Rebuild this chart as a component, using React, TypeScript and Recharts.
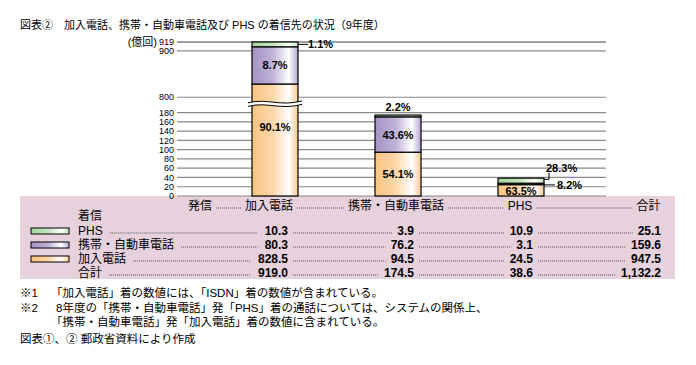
import React from "react";
import { BarChart, Bar, XAxis, YAxis, CartesianGrid } from "recharts";

// 発信側 (bars / table columns)
const categories = ["加入電話", "携帯・自動車電話", "PHS"];
// 着信側 values, 億回
const toFixedLine = [828.5, 94.5, 24.5];
const toMobile = [80.3, 76.2, 3.1];
const toPhs = [10.3, 3.9, 10.9];
const callTotals = [919.0, 174.5, 38.6];
const rowTotalPhs = 25.1;
const rowTotalMobile = 159.6;
const rowTotalFixed = 947.5;
const grandTotal = 1132.2;
// shares inside each bar, %
const pctFixed = [90.1, 54.1, 63.5];
const pctMobile = [8.7, 43.6, 8.2];
const pctPhs = [1.1, 2.2, 28.3];
const yTicks = [0, 20, 40, 60, 80, 100, 120, 140, 160, 180, 800, 900, 919];

// broken axis: 180..800 is squeezed out
const BREAK_LOW = 180;
const BREAK_HIGH = 800;
const SQUEEZE = 587;
const toDisplay = (v: number) => (v >= BREAK_HIGH ? v - SQUEEZE : v);
const fromDisplay = (d: number) => (d >= BREAK_HIGH - SQUEEZE ? d + SQUEEZE : d);

const FONT = "'Liberation Sans', 'Noto Sans CJK JP', sans-serif";
const PINK = "#E6D1DD";

const data = categories.map((name, i) => ({
  name,
  fixed: toDisplay(toFixedLine[i]),
  mobile: toMobile[i],
  phs: toPhs[i],
}));

const fmtPct = (v: number) => `${v.toFixed(1)}%`;
const fmtNum = (v: number) =>
  v.toLocaleString("en-US", { minimumFractionDigits: 1, maximumFractionDigits: 1 });

const labelProps = {
  fontFamily: FONT,
  fontSize: 11,
  fontWeight: 700,
  fill: "#000",
  dominantBaseline: "central" as const,
};

let ctx: CanvasRenderingContext2D | null = null;
function textWidth(s: string, font: string) {
  if (!ctx) ctx = document.createElement("canvas").getContext("2d");
  if (!ctx) return s.length * 7;
  ctx.font = font;
  return ctx.measureText(s).width;
}

// eslint-disable-next-line @typescript-eslint/no-explicit-any
function FixedShape(props: any) {
  const { x, y, width, height, index } = props;
  let brk = null;
  if (toFixedLine[index] >= BREAK_HIGH) {
    const disp = toDisplay(toFixedLine[index]);
    const mid = (BREAK_LOW + toDisplay(BREAK_HIGH)) / 2;
    const yc = y + height - (mid / disp) * height - 2;
    const x0 = x - 4;
    const x1 = x + width + 4;
    const w = x1 - x0;
    const g = 3.5;
    const top = `M${x0},${yc} C${x0 + w * 0.35},${yc - 5} ${x0 + w * 0.6},${yc + 4} ${x1},${yc - 2}`;
    const bot = `M${x0},${yc + g} C${x0 + w * 0.35},${yc - 5 + g} ${x0 + w * 0.6},${yc + 4 + g} ${x1},${yc - 2 + g}`;
    const area = `${top} L${x1},${yc - 2 + g} C${x0 + w * 0.6},${yc + 4 + g} ${x0 + w * 0.35},${yc - 5 + g} ${x0},${yc + g} Z`;
    brk = (
      <g>
        <path d={area} fill="#fff" stroke="none" />
        <path d={top} fill="none" stroke="#000" strokeWidth={1} />
        <path d={bot} fill="none" stroke="#000" strokeWidth={1} />
      </g>
    );
  }
  const cy = index === 0 ? y + height * 0.38 : y + height / 2 + (height < 15 ? 1 : 0);
  return (
    <g>
      <rect x={x} y={y} width={width} height={height} fill="url(#gOrange)" stroke="#000" strokeWidth={1.2} />
      {brk}
      <text x={x + width / 2} y={cy} textAnchor="middle" {...labelProps}>
        {fmtPct(pctFixed[index])}
      </text>
    </g>
  );
}

// eslint-disable-next-line @typescript-eslint/no-explicit-any
function MobileShape(props: any) {
  const { x, y, width, height, index } = props;
  const cy = y + height / 2;
  const big = height > 12;
  return (
    <g>
      <rect x={x} y={y} width={width} height={height} fill="url(#gPurple)" stroke="#000" strokeWidth={1.2} />
      {big ? (
        <text x={x + width / 2} y={cy} textAnchor="middle" {...labelProps}>
          {fmtPct(pctMobile[index])}
        </text>
      ) : (
        <g>
          <line x1={x + width} x2={x + width + 11} y1={cy + 1} y2={cy + 1} stroke="#000" strokeWidth={1} />
          <text x={x + width + 13} y={cy + 1} {...labelProps}>
            {fmtPct(pctMobile[index])}
          </text>
        </g>
      )}
    </g>
  );
}

// eslint-disable-next-line @typescript-eslint/no-explicit-any
function PhsShape(props: any) {
  const { x, y, width, height, index } = props;
  const cy = y + height / 2;
  let label = null;
  if (index === 0) {
    label = (
      <g>
        <line x1={x + width} x2={x + width + 10} y1={cy} y2={cy} stroke="#000" strokeWidth={1} />
        <text x={x + width + 10} y={cy} {...labelProps}>
          {fmtPct(pctPhs[index])}
        </text>
      </g>
    );
  } else if (index === 1) {
    label = (
      <text x={x + width / 2} y={y - 8} textAnchor="middle" {...labelProps}>
        {fmtPct(pctPhs[index])}
      </text>
    );
  } else {
    const lx = x + width + 5;
    label = (
      <g>
        <polyline
          points={`${x + width},${y + 1.2} ${lx},${y + 1.2} ${lx},${y - 5.5}`}
          fill="none"
          stroke="#000"
          strokeWidth={1}
        />
        <text x={x + width + 2} y={y - 10} {...labelProps}>
          {fmtPct(pctPhs[index])}
        </text>
      </g>
    );
  }
  return (
    <g>
      <rect x={x} y={y} width={width} height={height} fill="url(#gGreen)" stroke="#000" strokeWidth={1.2} />
      {label}
    </g>
  );
}

function Leader({ x1, x2, y }: { x1: number; x2: number; y: number }) {
  if (x2 <= x1) return null;
  return <line x1={x1} x2={x2} y1={y} y2={y} stroke="#555" strokeWidth={1} strokeDasharray="1 1" />;
}

function Swatch({ y, fill }: { y: number; fill: string }) {
  return <rect x={31} y={y - 3} width={38} height={6} fill={fill} stroke="#000" strokeWidth={1} />;
}

const tableFont = `12px ${FONT}`;
const tableBold = `bold 12px ${FONT}`;
const colEnds = [288, 414, 533, 661];

function Table() {
  const headY = 206;
  const heads = [
    { text: "発信", cx: 200 },
    { text: categories[0], cx: 269 },
    { text: categories[1], cx: 396 },
    { text: categories[2], cx: 520 },
    { text: "合計", cx: 648.5 },
  ];
  const headSpans = heads.map((h) => {
    const w = textWidth(h.text, tableFont);
    return { ...h, x0: h.cx - w / 2, x1: h.cx + w / 2 };
  });
  const rows = [
    { label: "PHS", y: 231, vals: [...toPhs, rowTotalPhs], fill: "url(#gGreen)" },
    { label: "携帯・自動車電話", y: 245, vals: [...toMobile, rowTotalMobile], fill: "url(#gPurple)" },
    { label: "加入電話", y: 259, vals: [...toFixedLine, rowTotalFixed], fill: "url(#gOrange)" },
    { label: "合計", y: 273, vals: [...callTotals, grandTotal], fill: "" },
  ];
  return (
    <g fontFamily={FONT} fontSize={12} fill="#000">
      {headSpans.map((h, i) => (
        <g key={h.text}>
          <text x={h.cx} y={headY} textAnchor="middle" dominantBaseline="central">
            {h.text}
          </text>
          {i < headSpans.length - 1 && <Leader x1={h.x1 + 4} x2={headSpans[i + 1].x0 - 4} y={headY + 2} />}
        </g>
      ))}
      <text x={78} y={216} dominantBaseline="central">
        着信
      </text>
      {rows.map((r) => {
        const labelEnd = 78 + textWidth(r.label, tableFont);
        const strs = r.vals.map(fmtNum);
        const starts = strs.map((s, i) => colEnds[i] - textWidth(s, tableBold));
        return (
          <g key={r.label}>
            {r.fill && <Swatch y={r.y} fill={r.fill} />}
            <text x={78} y={r.y} dominantBaseline="central">
              {r.label}
            </text>
            <Leader x1={labelEnd + 7} x2={starts[0] - 7} y={r.y + 2} />
            {strs.map((s, i) => (
              <g key={i}>
                <text x={colEnds[i]} y={r.y} textAnchor="end" fontWeight={700} dominantBaseline="central">
                  {s}
                </text>
                {i < strs.length - 1 && <Leader x1={colEnds[i] + 5} x2={starts[i + 1] - 5} y={r.y + 2} />}
              </g>
            ))}
          </g>
        );
      })}
    </g>
  );
}

function Gradients() {
  return (
    <defs>
      <linearGradient id="gOrange" x1="0" y1="0" x2="1" y2="0">
        <stop offset="0" stopColor="#F8C482" />
        <stop offset="0.45" stopColor="#FCD7A8" />
        <stop offset="0.8" stopColor="#FFFFFF" />
        <stop offset="1" stopColor="#F6CA92" />
      </linearGradient>
      <linearGradient id="gPurple" x1="0" y1="0" x2="1" y2="0">
        <stop offset="0" stopColor="#A593C5" />
        <stop offset="0.45" stopColor="#BFB2D8" />
        <stop offset="0.8" stopColor="#FFFFFF" />
        <stop offset="1" stopColor="#B5A7D1" />
      </linearGradient>
      <linearGradient id="gGreen" x1="0" y1="0" x2="1" y2="0">
        <stop offset="0" stopColor="#A6D8A0" />
        <stop offset="0.45" stopColor="#C2E5BC" />
        <stop offset="0.8" stopColor="#FFFFFF" />
        <stop offset="1" stopColor="#C2E5BC" />
      </linearGradient>
    </defs>
  );
}

export default function App() {
  return (
    <div style={{ position: "absolute", left: 0, top: 0, width: 696, height: 365, background: "#fff" }}>
      <div style={{ position: "absolute", left: 20, top: 196, width: 655, height: 83, background: PINK }} />
      <svg width={696} height={365} style={{ position: "absolute", left: 0, top: 0 }}>
        <Gradients />
      </svg>
      <div style={{ position: "absolute", left: 0, top: 0 }}>
        <BarChart
          width={696}
          height={365}
          data={data}
          margin={{ top: 42, right: 90, bottom: 169, left: 117 }}
          barSize={46}
        >
          <CartesianGrid vertical={false} stroke="#8a8a8a" strokeWidth={1.2} />
          <XAxis dataKey="name" hide padding={{ left: 36, right: 24 }} />
          <YAxis
            width={60}
            domain={[0, toDisplay(919)]}
            ticks={yTicks.map(toDisplay)}
            interval={0}
            tickFormatter={(d: number) => String(Math.round(fromDisplay(d)))}
            tick={{ fontSize: 9, fill: "#000", fontFamily: FONT }}
            axisLine={false}
            tickLine={false}
            tickSize={0}
            tickMargin={3}
          />
          <Bar dataKey="fixed" stackId="a" shape={FixedShape} isAnimationActive={false} />
          <Bar dataKey="mobile" stackId="a" shape={MobileShape} isAnimationActive={false} />
          <Bar dataKey="phs" stackId="a" shape={PhsShape} isAnimationActive={false} />
        </BarChart>
      </div>
      <svg
        width={696}
        height={365}
        style={{ position: "absolute", left: 0, top: 0, pointerEvents: "none" }}
        fontFamily={FONT}
      >
        <text x={20} y={25} fontSize={11} dominantBaseline="central">
          図表②　加入電話、携帯・自動車電話及び PHS の着信先の状況（9年度）
        </text>
        <text x={157} y={42} fontSize={11} textAnchor="end" dominantBaseline="central">
          (億回)
        </text>
        <Table />
        <g fontSize={11.5}>
          <text x={20} y={293} dominantBaseline="central">※1</text>
          <text x={51} y={293} dominantBaseline="central">
            「加入電話」着の数値には、「ISDN」着の数値が含まれている。
          </text>
          <text x={20} y={308} dominantBaseline="central">※2</text>
          <text x={56} y={308} dominantBaseline="central">
            8年度の「携帯・自動車電話」発「PHS」着の通話については、システムの関係上、
          </text>
          <text x={51} y={322} dominantBaseline="central">
            「携帯・自動車電話」発「加入電話」着の数値に含まれている。
          </text>
          <text x={20} y={339} dominantBaseline="central">
            図表①、②  郵政省資料により作成
          </text>
        </g>
      </svg>
    </div>
  );
}
